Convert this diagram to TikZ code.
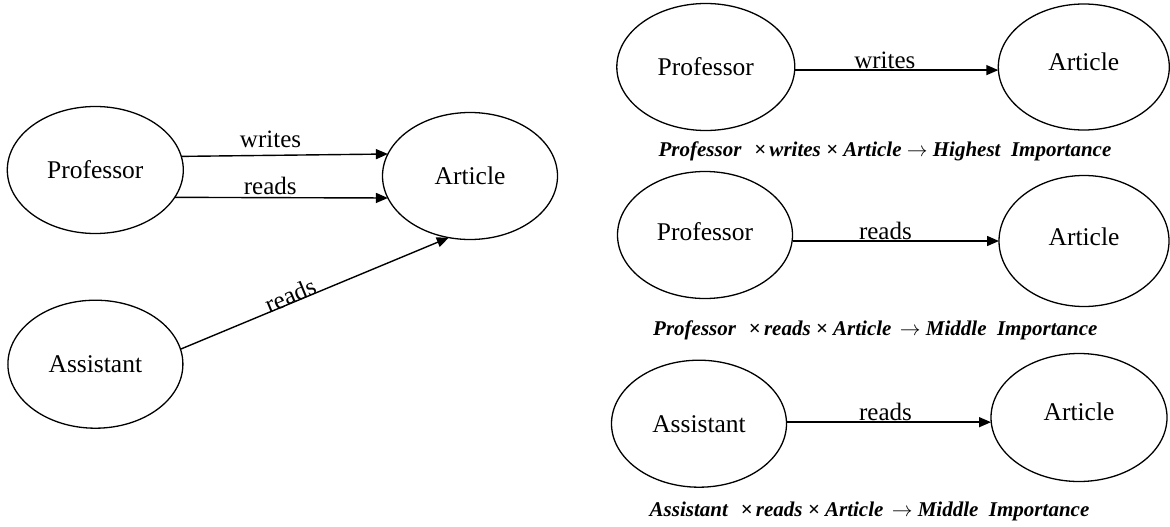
\documentclass[tikz,border=0pt]{standalone}
\usepackage{fontspec}
\setmainfont{Liberation Serif}
\usetikzlibrary{shapes.geometric,arrows.meta}
\begin{document}
\begin{tikzpicture}[x=1pt,y=-1pt,
  ent/.style={draw,ellipse,line width=1.3pt,inner sep=0pt,outer sep=0pt,
              text height=17pt,text depth=0pt,
              font=\fontsize{25.5}{25.5}\selectfont},
  rel/.style={draw,line width=1.4pt,-{Triangle[length=12pt,width=10pt]}},
  lbl/.style={font=\fontsize{25}{25}\selectfont,inner sep=0pt,anchor=base},
  importance/.style={font=\fontsize{21}{21}\selectfont\bfseries\itshape,inner sep=0pt}]
\useasboundingbox (0,0) rectangle (1170,527);

% combined graph
\node[ent,minimum width=176pt,minimum height=127pt] (lp) at (95.3,170) {Professor};
\node[ent,minimum width=175pt,minimum height=127pt] (la) at (470,176) {Article};
\node[ent,minimum width=175pt,minimum height=128pt] (ls) at (95.4,364.2) {Assistant};

\draw[rel] (lp.9.95) -- node[lbl,pos=0.432,yshift=8.3pt]{writes} (la.165.74);
\draw[rel] (lp.-19.52) -- node[lbl,pos=0.448,yshift=3pt]{reads} (la.-165);
\draw[rel] (ls.10.6) -- node[lbl,pos=0.42,sloped,yshift=-1pt]{reads} (la.251.2);

% single relations with their importance
\node[ent,minimum width=178pt,minimum height=127pt] (rp1) at (705.8,67) {Professor};
\node[ent,minimum width=171pt,minimum height=126pt] (ra1) at (1083.8,67) {\raisebox{5pt}{Article}};
\draw[rel] (rp1.-2.4) -- node[lbl,pos=0.443,yshift=1.7pt]{writes} (rp1.-2.4 -| ra1.west);
\node[importance] (c1) at (885,151.7) {Professor\hspace{0.6em}×\,writes × Article $\rightarrow$ Highest\hspace{0.5em}Importance};

\node[ent,minimum width=175pt,minimum height=127pt] (rp2) at (705,235) {\raisebox{3pt}{Professor}};
\node[ent,minimum width=170pt,minimum height=131pt] (ra2) at (1084,241) {\raisebox{4pt}{Article}};
\draw[rel] (ra2.west -| rp2.east) -- node[lbl,pos=0.45,yshift=2pt]{reads} (ra2.west);
\node[importance] (c2) at (875.3,330.7) {Professor\hspace{0.6em}×\,reads × Article\hspace{0.4em}$\rightarrow$ Middle\hspace{0.5em}Importance};

\node[ent,minimum width=175pt,minimum height=127pt] (rs3) at (699,423.7) {Assistant};
\node[ent,minimum width=176pt,minimum height=128pt] (ra3) at (1079,417.5) {\raisebox{6pt}{Article}};
\draw[rel] (rs3.1.77) -- node[lbl,pos=0.484,yshift=1.7pt]{reads} (rs3.1.77 -| ra3.west);
\node[importance] (c3) at (869.5,511.7) {Assistant\hspace{0.6em}×\,reads × Article\hspace{0.4em}$\rightarrow$ Middle\hspace{0.5em}Importance};
\end{tikzpicture}
\end{document}
